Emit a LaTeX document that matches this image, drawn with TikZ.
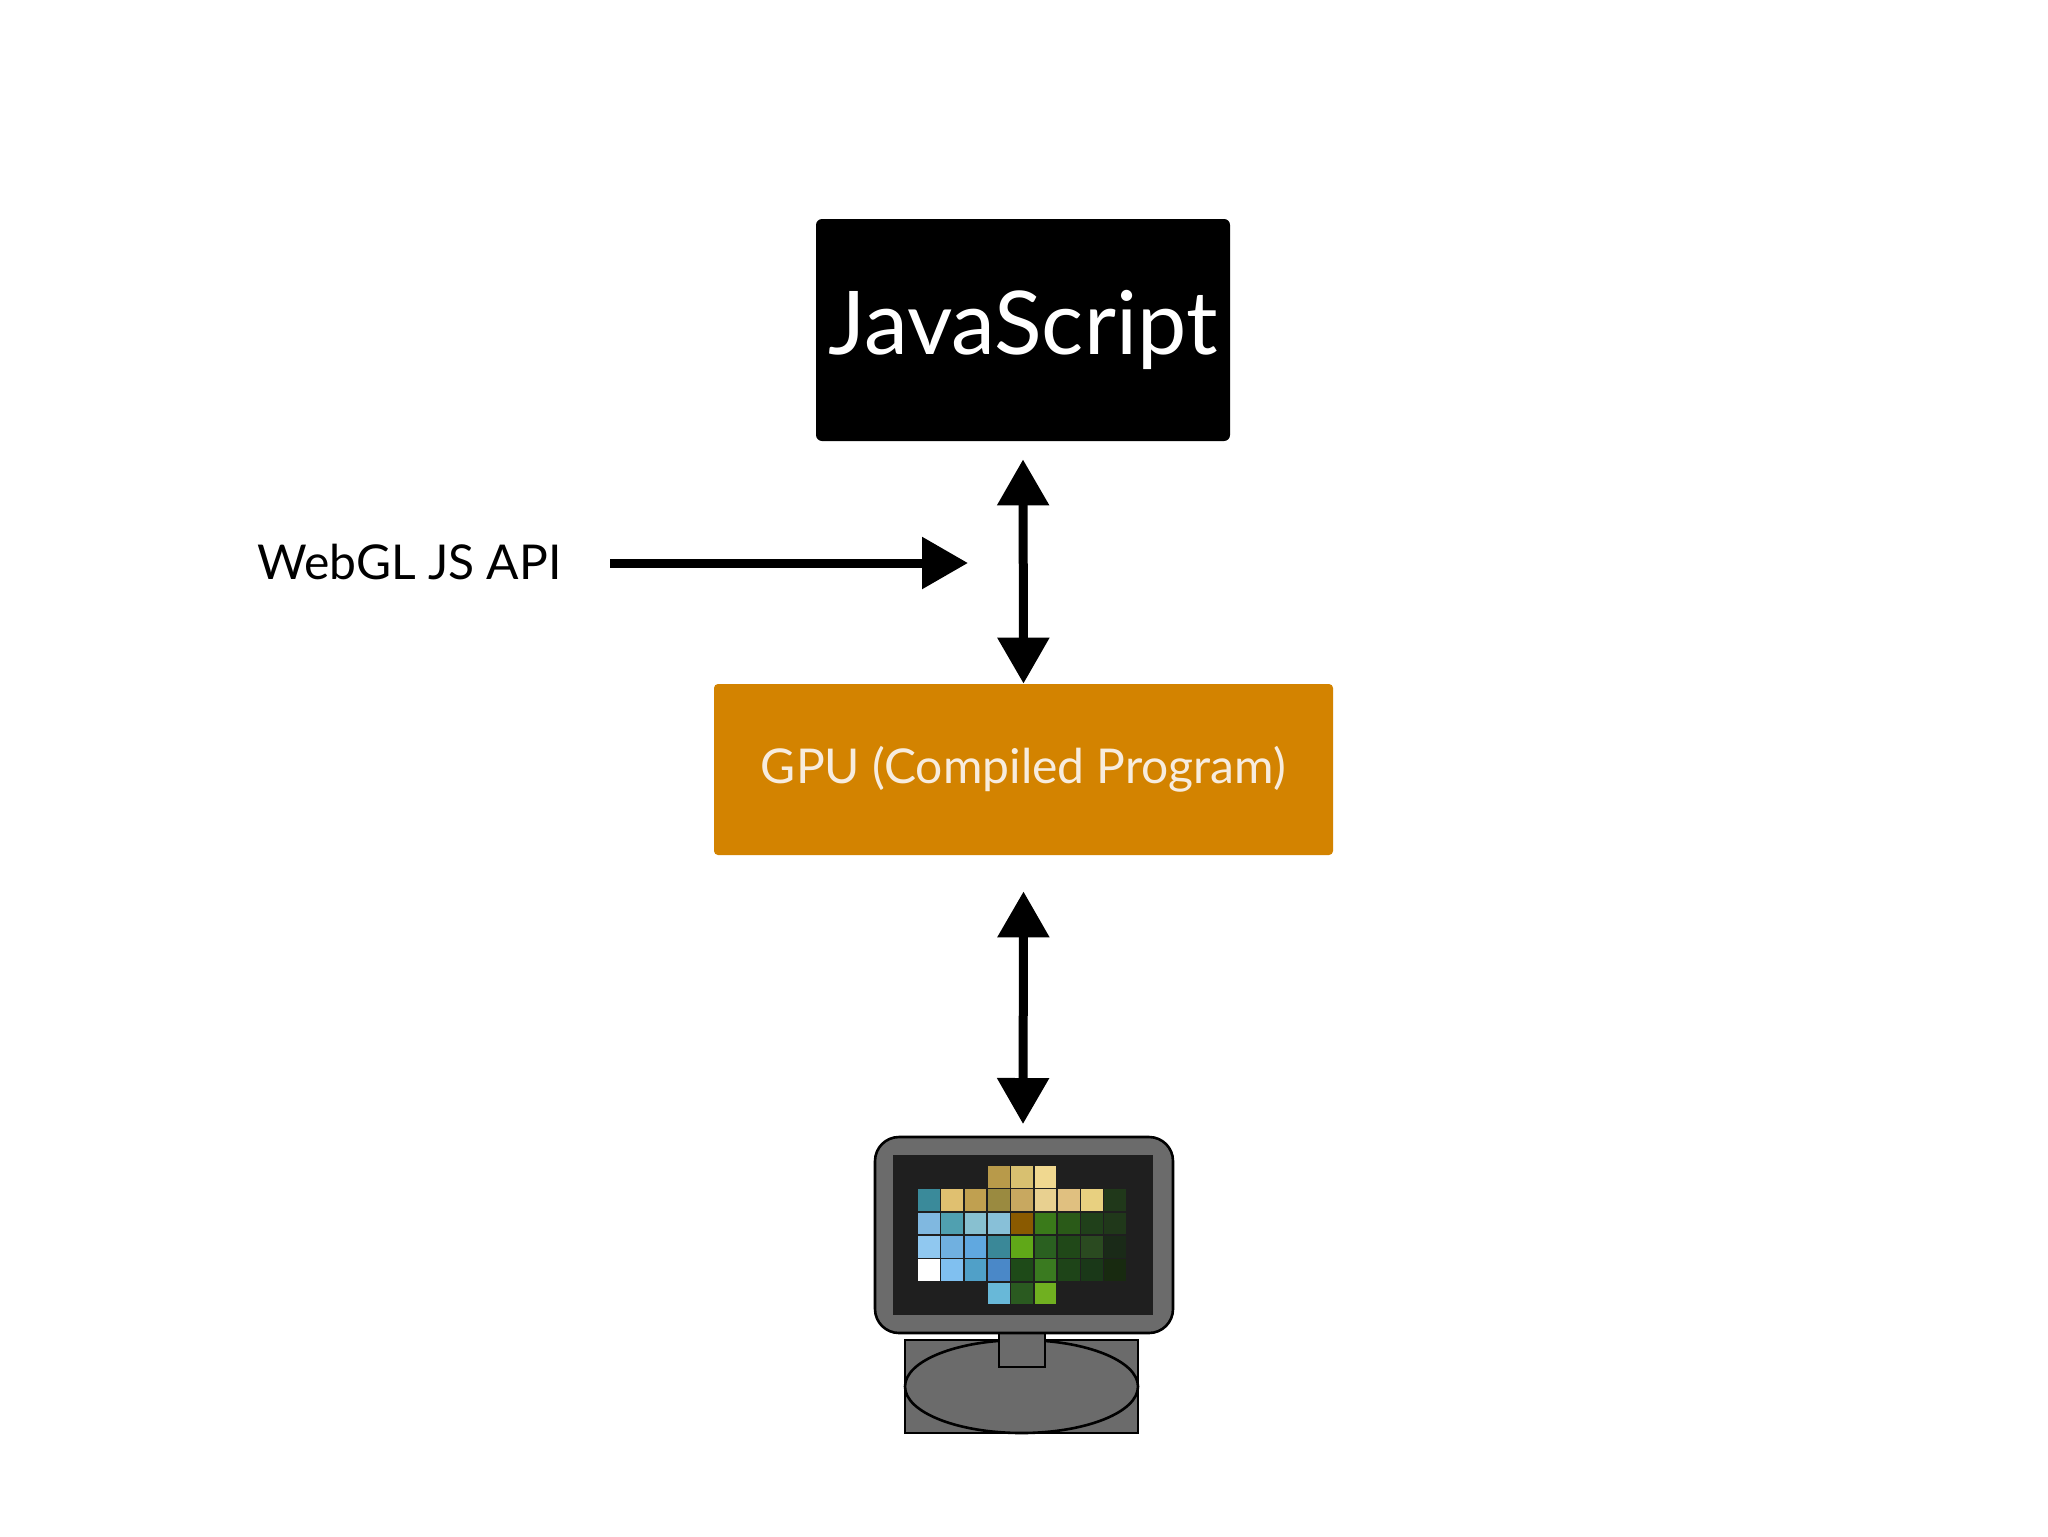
\documentclass[tikz,border=0pt]{standalone}
\usepackage{fontspec}
\setmainfont{Lato}
\usetikzlibrary{arrows.meta}
\begin{document}
\begin{tikzpicture}[x=0.5pt,y=-0.5pt,
  conn/.style={line width=4.5pt,{Triangle[width=25pt,length=23pt]}-{Triangle[width=25pt,length=23pt]}},
  oneway/.style={line width=4.5pt,-{Triangle[width=25pt,length=23pt]}},
  mon/.style={draw=black,line width=1.3pt,fill=black!58}]
\useasboundingbox (0,0) rectangle (2048,1536);
\node[fill=black,rounded corners=3pt,minimum width=207pt,minimum height=111pt,inner sep=0pt,
  text=white,font=\fontsize{44}{50}\selectfont] (js) at (1023,330) {JavaScript};
\node[fill={rgb,255:red,211;green,131;blue,0},rounded corners=2pt,minimum width=309.5pt,minimum height=85.5pt,inner sep=0pt,
  text={rgb,255:red,247;green,236;blue,222},font=\fontsize{24}{28}\selectfont] (gpu) at (1023.5,769.5) {GPU (Compiled Program)};
\node[font=\fontsize{24}{28}\selectfont,anchor=east,inner sep=0pt] (api) at (562,562) {WebGL JS API};
\coordinate (apiend) at (968,563);
\coordinate (montop) at (1023,1124);
\draw[conn] ([yshift=-9pt]js.south) -- (gpu.north);
\draw[conn] ([yshift=-18pt]gpu.south) -- (montop);
\draw[oneway] ([xshift=-42pt]api.east |- apiend) ++(66pt,0) -- (apiend);
% monitor
\draw[mon] (905,1340) rectangle (1138,1433);
\draw[mon] (1021.5,1386.5) ellipse (116.5 and 46.5);
\draw[mon] (999,1320) rectangle (1045,1367);
\draw[mon,rounded corners=12pt] (875,1137) rectangle (1173,1333);
\fill[black!88] (893,1155) rectangle (1153,1315);
\def\cs{23.3}
\foreach \r/\c/\col in {
0/3/B89A4A,0/4/D8C070,0/5/F0D890,
1/0/3A8A9A,1/1/E0C070,1/2/C0A050,1/3/9A8A40,1/4/C8A860,1/5/E8D090,1/6/E0C080,1/7/E8D080,1/8/20381A,
2/0/80B8E0,2/1/50A0B0,2/2/88C0D0,2/3/88C0D8,2/4/8A5A00,2/5/3A7A1A,2/6/2A5A18,2/7/20401A,2/8/20381A,
3/0/90C8F0,3/1/70B0E0,3/2/60A8E0,3/3/3A8898,3/4/60A818,3/5/2A6020,3/6/204818,3/7/2A4A20,3/8/1A2A18,
4/0/FFFFFF,4/1/80C0F0,4/2/50A0C8,4/3/4A88C8,4/4/1E4A18,4/5/3A7A20,4/6/1E4418,4/7/1A3818,4/8/182A10,
5/3/68B8D8,5/4/2A5A20,5/5/70B020}{
  \definecolor{cc}{HTML}{\col}
  \fill[cc] (918+\c*\cs,1166+\r*\cs) rectangle ++(\cs-1.5,\cs-1.5);
}
\end{tikzpicture}
\end{document}
